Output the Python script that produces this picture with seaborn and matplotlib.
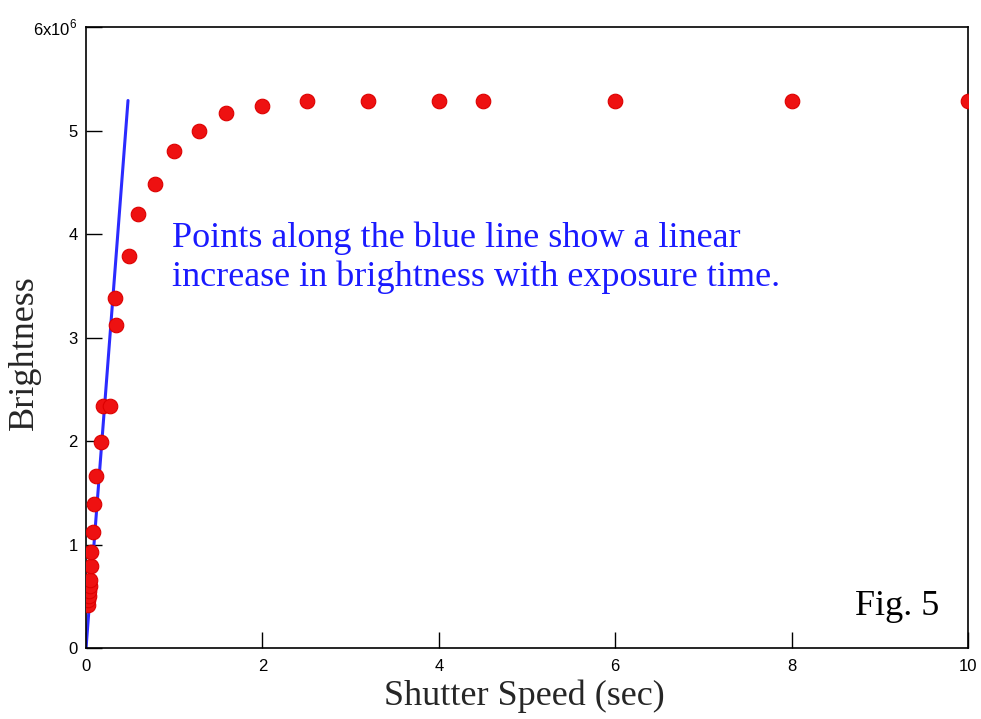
import numpy as np
import pandas as pd
import matplotlib
matplotlib.use("Agg")
import matplotlib.pyplot as plt
import seaborn as sns

# Data (shutter speed in seconds, brightness in millions)
shutter = [0.02, 0.02, 0.03, 0.03, 0.04, 0.04, 0.06, 0.06, 0.08, 0.09, 0.11,
           0.17, 0.19, 0.27, 0.34, 0.33, 0.49, 0.59, 0.78, 1.0, 1.28, 1.59,
           2.0, 2.5, 3.2, 4.0, 4.5, 6.0, 8.0, 10.0]
brightness = [0.42, 0.46, 0.50, 0.55, 0.60, 0.66, 0.79, 0.93, 1.12, 1.39, 1.66,
              1.99, 2.34, 2.34, 3.12, 3.38, 3.79, 4.19, 4.48, 4.80, 5.00, 5.17,
              5.24, 5.29, 5.29, 5.29, 5.29, 5.29, 5.29, 5.29]
line_x = [0.0, 0.476]
line_y = [0.0, 5.29]

x_ticks = [0, 2, 4, 6, 8, 10]
y_ticks = [0, 1, 2, 3, 4, 5, 6]
y_tick_labels = ['0', '1', '2', '3', '4', '5', '6x10$^6$']

scale = 1e6
df = pd.DataFrame({"x": shutter, "y": np.array(brightness) * scale})
dl = pd.DataFrame({"x": line_x, "y": np.array(line_y) * scale})

sns.set_style("white")
plt.rcParams['font.family'] = ['Liberation Sans', 'DejaVu Sans']
plt.rcParams['mathtext.fontset'] = 'custom'
plt.rcParams['mathtext.rm'] = 'Liberation Sans'

fig = plt.figure(figsize=(9.81, 7.19), dpi=100)
ax = fig.add_axes([0.0877, 0.0987, 0.8990, 0.8637])

sns.lineplot(data=dl, x="x", y="y", ax=ax, color="#2b2bff", linewidth=2.2)
sns.scatterplot(data=df, x="x", y="y", ax=ax, color="#ee1111", s=110,
                edgecolor="#dd0000", linewidth=0.8, zorder=3)

ax.set_xlim(0, 10)
ax.set_ylim(0, 6 * scale)
ax.set_xticks(x_ticks)
ax.set_xticklabels([str(t) for t in x_ticks])
ax.set_yticks([t * scale for t in y_ticks])
ax.set_yticklabels(y_tick_labels)
ax.tick_params(direction='in', length=11.5, width=1, labelsize=12,
               colors='black', bottom=True, left=True, top=False, right=False)
ax.tick_params(axis='x', pad=8)
ax.tick_params(axis='y', pad=6)
for sp in ax.spines.values():
    sp.set_color('black')
    sp.set_linewidth(1.2)

serif = ['Liberation Serif', 'DejaVu Serif']
ax.set_xlabel("Shutter Speed (sec)", family=serif, fontsize=26)
ax.set_ylabel("Brightness", family=serif, fontsize=26)
ax.xaxis.set_label_coords(0.497, -0.050)
ax.yaxis.set_label_coords(-0.051, 0.475)

ax.text(0.98, 3.77 * scale,
        "Points along the blue line show a linear\nincrease in brightness with exposure time.",
        family=serif, fontsize=26, color="#1a1aff", ha='left', va='center',
        linespacing=1.2)
ax.text(8.72, 0.40 * scale, "Fig. 5", family=serif, fontsize=26,
        color='black', ha='left', va='center')

fig.savefig("out.png", dpi=100)
